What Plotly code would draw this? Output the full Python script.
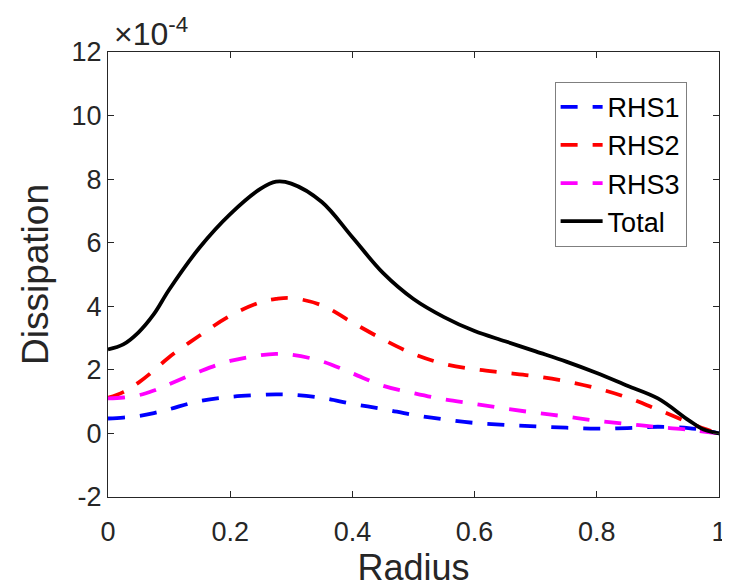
import plotly.graph_objects as go

radius = [0.0, 0.025, 0.05, 0.075, 0.1, 0.15, 0.2, 0.25, 0.275, 0.3, 0.35, 0.4, 0.45, 0.5,
          0.55, 0.6, 0.65, 0.7, 0.75, 0.8, 0.85, 0.9, 0.95, 0.975, 1.0]
rhs1 = [0.47, 0.5, 0.55, 0.64, 0.76, 1.02, 1.15, 1.21, 1.23, 1.22, 1.12, 0.93, 0.77, 0.58,
        0.44, 0.33, 0.27, 0.22, 0.18, 0.15, 0.17, 0.21, 0.17, 0.10, 0.0]
rhs2 = [1.12, 1.3, 1.6, 1.98, 2.4, 3.08, 3.7, 4.13, 4.23, 4.26, 4.03, 3.49, 2.96, 2.5,
        2.19, 2.02, 1.91, 1.8, 1.64, 1.42, 1.13, 0.75, 0.35, 0.15, 0.0]
rhs3 = [1.1, 1.13, 1.2, 1.35, 1.55, 1.95, 2.28, 2.46, 2.5, 2.48, 2.27, 1.89, 1.5, 1.27,
        1.07, 0.93, 0.78, 0.65, 0.53, 0.4, 0.3, 0.2, 0.12, 0.06, 0.0]
total = [2.64, 2.8, 3.18, 3.75, 4.52, 5.85, 6.9, 7.7, 7.92, 7.86, 7.28, 6.17, 5.05, 4.23,
         3.66, 3.22, 2.9, 2.58, 2.26, 1.9, 1.5, 1.1, 0.42, 0.12, 0.0]

series = [("RHS1", rhs1, "#0000ff", "17px,15px"),
          ("RHS2", rhs2, "#ff0000", "17px,15px"),
          ("RHS3", rhs3, "#ff00ff", "17px,15px"),
          ("Total", total, "#000000", "solid")]

xticks = [0, 0.2, 0.4, 0.6, 0.8, 1]
xticklabels = ["0", "0.2", "0.4", "0.6", "0.8", "1"]
yticks = [-2, 0, 2, 4, 6, 8, 10, 12]
yticklabels = ["-2", "0", "2", "4", "6", "8", "10", "12"]

FONT = "Liberation Sans, Arial, Helvetica"

fig = go.Figure()
for name, vals, color, dash in series:
    fig.add_trace(go.Scatter(x=radius, y=vals, mode="lines", name=name,
                             line=dict(color=color, width=3.8, dash=dash, shape="spline", smoothing=1)))

axis_common = dict(showgrid=False, zeroline=False, showline=True, mirror="ticks",
                   linecolor="#262626", linewidth=1.2, ticks="inside", ticklen=6,
                   tickcolor="#262626", automargin=False,
                   tickfont=dict(family=FONT, size=27, color="#262626"))

# the page body adds an 8px offset; the figure is sized to compensate
fig.update_layout(
    width=722, height=580,
    margin=dict(l=100, r=11, t=44, b=91),
    paper_bgcolor="white", plot_bgcolor="white",
    font=dict(family=FONT, color="#262626"),
    xaxis=dict(range=[0, 1], tickvals=xticks, ticktext=xticklabels, ticklabelstandoff=10,
               title=dict(text="Radius", font=dict(size=36, color="#262626"), standoff=14),
               **axis_common),
    yaxis=dict(range=[-2, 12], tickvals=yticks, ticktext=yticklabels,
               title=dict(text="Dissipation", font=dict(size=37, color="#262626"), standoff=11),
               **axis_common),
    legend=dict(x=0.947, y=0.933, xanchor="right", yanchor="top",
                bgcolor="white", bordercolor="#7f7f7f", borderwidth=1,
                font=dict(family=FONT, size=27, color="#000000"), tracegroupgap=0,
                itemwidth=42),
    showlegend=True,
)

fig.add_annotation(xref="paper", yref="paper", x=0.006, y=1.0, xanchor="left", yanchor="bottom",
                   text="×10<sup>-4</sup>", showarrow=False,
                   font=dict(family=FONT, size=32, color="#262626"), yshift=-2)

fig.write_html("out.html")
